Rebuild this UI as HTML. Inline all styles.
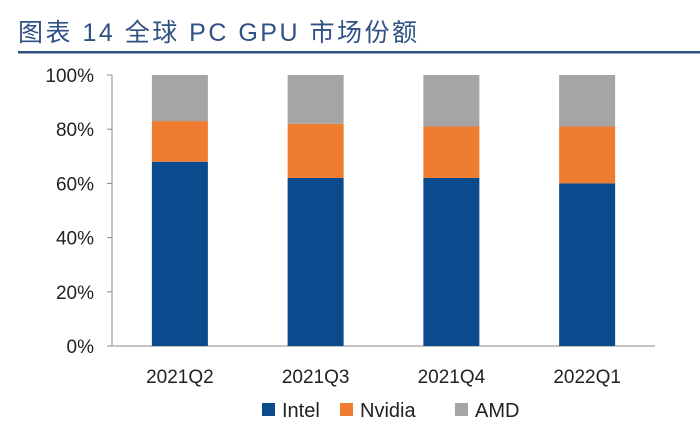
<!DOCTYPE html>
<html><head><meta charset="utf-8"><style>
body{margin:0;background:#fff;width:700px;height:435px;overflow:hidden}
svg{display:block;font-family:"Liberation Sans","Noto Sans CJK SC",sans-serif}
</style></head><body>
<svg id="c" width="700" height="435">
<text x="18" y="41" font-size="25" letter-spacing="2.5" fill="#2f5183" font-family="'Liberation Sans','Noto Sans CJK SC',sans-serif">图表 14 全球 PC GPU 市场份额</text>
<rect x="18" y="51" width="682" height="2.5" fill="#2f5183"/>
<g id="plot"></g>
</svg>
<script>
const categories=["2021Q2","2021Q3","2021Q4","2022Q1"];
const intel=[68,62,62,60];
const nvidia=[15,20,19,21];
const amd=[17,18,19,19];
const ticks=[0,20,40,60,80,100];
const seriesNames=["Intel","Nvidia","AMD"];
const colors=["#0b4a8c","#ee7d31","#a5a5a5"];
const NS="http://www.w3.org/2000/svg";
const g=document.getElementById('plot');
const y0=346,y1=75,xL=112,xR=655;
const y=v=>y0-(y0-y1)*v/100;
const band=(xR-xL)/categories.length;
const xc=i=>xL+band*(i+0.5);
function mk(t,a){const e=document.createElementNS(NS,t);for(const k in a)e.setAttribute(k,a[k]);g.appendChild(e);return e;}
ticks.forEach(t=>{
 const e=mk('text',{x:94,y:y(t)+7,'font-size':19,fill:'#222','text-anchor':'end'});e.textContent=t+'%';
 
 
 const l=mk('line',{x1:xL-5,x2:xL,y1:y(t),y2:y(t),stroke:'#888'});
 
 
});
const ax=mk('line',{x1:xL,x2:xL,y1:y1,y2:y0,stroke:'#888'});


const bx=mk('line',{x1:xL,x2:xR,y1:y0,y2:y0,stroke:'#888'});


const series=[intel,nvidia,amd];
categories.forEach((c,i)=>{
 let base=0;
 series.forEach((s,k)=>{
  const r=mk('rect',{x:xc(i)-28,width:56,y:y(base+s[i]),height:y(base)-y(base+s[i]),fill:colors[k]});
  
  
  base+=s[i];
 });
 const t=mk('text',{x:xc(i),y:383,'font-size':19,fill:'#222','text-anchor':'middle'});t.textContent=c;
 
 
});
const lx=[262,340,455];
seriesNames.forEach((n,k)=>{
 const r=mk('rect',{x:lx[k],y:403,width:13,height:13,fill:colors[k]});
 
 
 const t=mk('text',{x:lx[k]+20,y:417,'font-size':20,fill:'#222'});t.textContent=n;
 
 
});
</script>
</body></html>
